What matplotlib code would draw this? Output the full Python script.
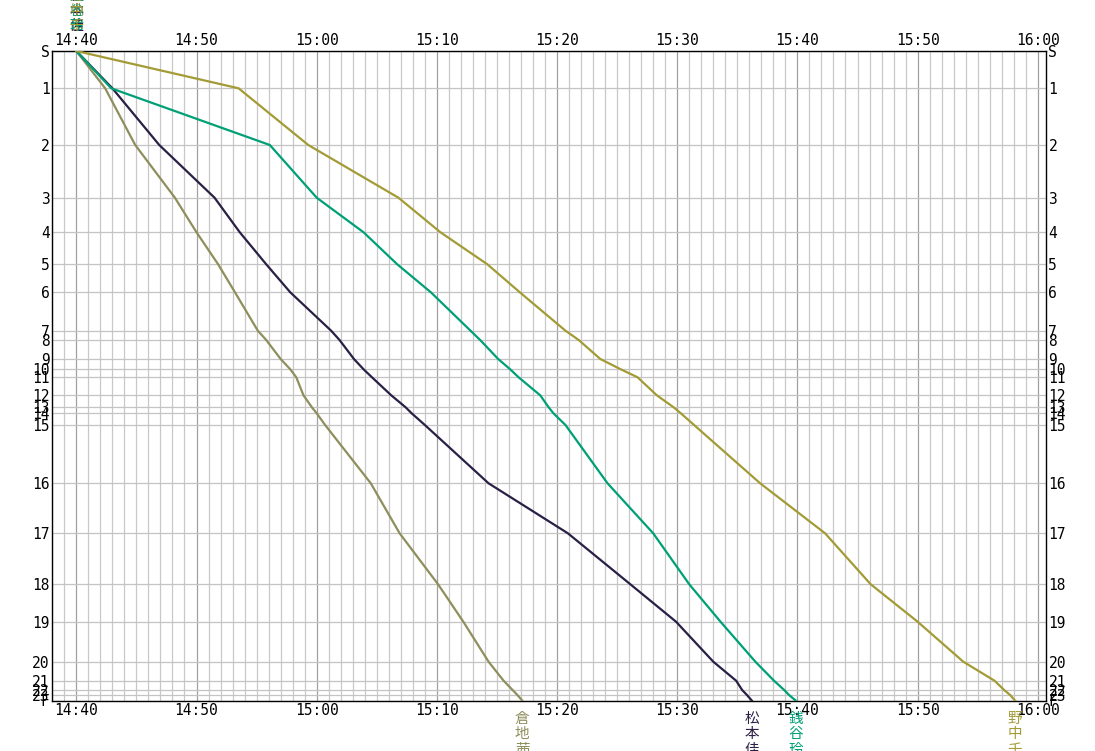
import matplotlib
matplotlib.use("Agg")
import matplotlib.pyplot as plt
from matplotlib.ticker import MultipleLocator

# ---------------------------------------------------------------- data
CONTROLS = ["S"] + [str(i) for i in range(1, 24)] + ["F"]
# cumulative course position of each control (drawn top -> bottom)
DIST = [0, 37.3, 94, 146.7, 181.3, 213.3, 241.3, 279.7, 289, 308, 318.3,
        326.3, 344.3, 356.3, 362.3, 374, 432.3, 482.3, 533.3, 570.7, 610.7,
        629.7, 639, 644, 649.5]

# minutes after 14:40 at each control
KURACHI = [0, 2.4, 4.9, 8.2, 10.0, 11.8, 13.2, 15.1, 15.8, 17.0, 17.8, 18.3,
           18.9, 19.6, 20.0, 20.7, 24.5, 26.9, 30.1, 32.2, 34.3, 35.55, 36.3,
           36.7, 37.1]
MATSUMOTO = [0, 3.0, 6.9, 11.5, 13.6, 15.8, 17.8, 21.2, 21.9, 23.1, 23.9, 24.6,
             26.2, 27.4, 27.9, 29.0, 34.3, 40.9, 46.1, 49.9, 53.0, 54.9, 55.4,
             55.8, 56.2]
ZENIYA = [0, 2.9, 16.1, 20.0, 23.9, 26.7, 29.5, 32.8, 33.6, 35.1, 36.1, 36.8,
          38.6, 39.3, 39.7, 40.7, 44.2, 48.0, 51.0, 53.6, 56.5, 58.05, 58.9,
          59.3, 59.85]
NONAKA = [0, 13.5, 19.3, 26.8, 30.3, 34.2, 36.9, 40.7, 41.8, 43.6, 45.3, 46.7,
          48.3, 49.7, 50.3, 51.4, 56.9, 62.3, 66.1, 70.0, 73.8, 76.4, 77.2,
          77.7, 78.1]

NAMES = ["倉地茜", "松本佳", "銭谷玲", "野中千"]
SERIES = [KURACHI, MATSUMOTO, ZENIYA, NONAKA]
COLORS = ["#8e8f5c", "#2a1f45", "#00a077", "#a39b36"]

TIME_TICKS = list(range(0, 81, 10))
TIME_LABELS = ["14:40", "14:50", "15:00", "15:10", "15:20",
               "15:30", "15:40", "15:50", "16:00"]

# ---------------------------------------------------------------- figure
W, H = 1095, 751
fig = plt.figure(figsize=(W / 100, H / 100), dpi=100)
fig.patch.set_facecolor("white")
L, R, T, B = 52.3, 1045.6, 51, 700.5
ax = fig.add_axes([L / W, (H - B) / H, (R - L) / W, (B - T) / H])

MONO = "DejaVu Sans Mono"
CJK = ["Noto Sans CJK JP", "DejaVu Sans"]

for times, col in zip(SERIES, COLORS):
    ax.plot(times, DIST, color=col, lw=1.6, zorder=3, solid_joinstyle="round")

ax.set_xlim(-2.0, 80.65)
ax.set_ylim(DIST[-1], 0)

# grid: every minute light, every 10 minutes darker, one row per control
ax.xaxis.set_minor_locator(MultipleLocator(1))
ax.set_xticks(TIME_TICKS)
ax.set_xticklabels(TIME_LABELS, fontfamily=MONO, fontsize=10.5)
ax.set_yticks(DIST)
ax.set_yticklabels(CONTROLS, fontfamily=MONO, fontsize=10.5)
ax.grid(axis="x", which="minor", color="#c8c8c8", lw=0.9, zorder=0)
ax.grid(axis="x", which="major", color="#a0a0a0", lw=0.9, zorder=0)
ax.grid(axis="y", which="major", color="#c4c4c4", lw=0.9, zorder=0)
ax.set_axisbelow(True)

ax.tick_params(axis="x", which="both", length=0, top=False, bottom=False,
               labeltop=True, labelbottom=True, pad=2)
ax.tick_params(axis="y", which="both", length=0, left=False, right=False,
               labelleft=True, labelright=True, pad=2)
for s in ax.spines.values():
    s.set_color("black")
    s.set_linewidth(1.0)

# runner names: stacked at the start, and under each finish time
for name, times, col in zip(NAMES, SERIES, COLORS):
    vert = "\n".join(name)
    ax.annotate(vert, xy=(times[0], 1), xycoords=("data", "axes fraction"),
                xytext=(0, 13), textcoords="offset points", ha="center",
                va="bottom", fontsize=10, color=col, family=CJK,
                linespacing=1.1, annotation_clip=False)
    ax.annotate(vert, xy=(times[-1], 0), xycoords=("data", "axes fraction"),
                xytext=(0, -8), textcoords="offset points", ha="center",
                va="top", fontsize=10.5, color=col, family=CJK,
                linespacing=1.15, annotation_clip=False)

fig.savefig("out.png", dpi=100, facecolor="white")
